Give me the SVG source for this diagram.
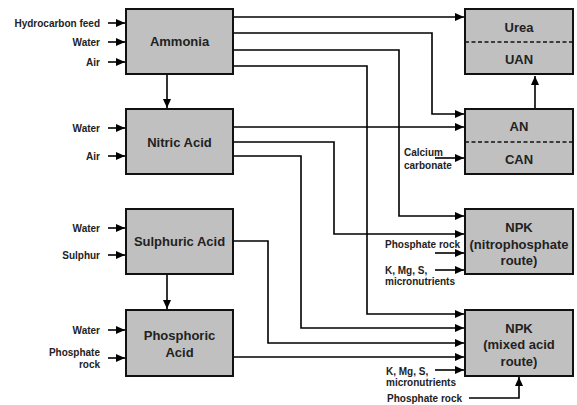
<svg xmlns="http://www.w3.org/2000/svg" width="577" height="405" viewBox="0 0 577 405">
<defs>
<marker id="ah" markerUnits="userSpaceOnUse" markerWidth="9" markerHeight="8" refX="9" refY="4" orient="auto">
<path d="M0,0 L9,4 L0,8 z" fill="#000"/>
</marker>
<style>
.box{fill:#c0c0c0;stroke:#111;stroke-width:2}
.dash{stroke:#111;stroke-width:1.6;stroke-dasharray:4,2.5;fill:none}
.t{font-family:"Liberation Sans",Arial,sans-serif;font-weight:bold;font-size:13px;fill:#222;text-anchor:middle}
.s{font-family:"Liberation Sans",Arial,sans-serif;font-weight:bold;font-size:10px;fill:#222}
.r{text-anchor:end}
.c line,.c path{stroke:#000;stroke-width:1.6;fill:none}
.a{marker-end:url(#ah)}
</style>
</defs>
<rect width="577" height="405" fill="#fff"/>

<g id="connectors" class="c">
<line class="a" x1="108" y1="23" x2="125" y2="23"/>
<line class="a" x1="108" y1="42" x2="125" y2="42"/>
<line class="a" x1="108" y1="62" x2="125" y2="62"/>
<line class="a" x1="108" y1="128" x2="125" y2="128"/>
<line class="a" x1="108" y1="156" x2="125" y2="156"/>
<line class="a" x1="108" y1="228" x2="125" y2="228"/>
<line class="a" x1="108" y1="255" x2="125" y2="255"/>
<line class="a" x1="108" y1="330" x2="125" y2="330"/>
<line class="a" x1="108" y1="358" x2="125" y2="358"/>
<line class="a" x1="167" y1="75" x2="167" y2="108"/>
<line class="a" x1="167" y1="275" x2="167" y2="309"/>
<line class="a" x1="234" y1="17" x2="464" y2="17"/>
<path class="a" d="M234,33 H432 V114 H464"/>
<path class="a" d="M234,50 H399 V216 H464"/>
<path class="a" d="M234,66 H367 V314 H464"/>
<line class="a" x1="234" y1="127" x2="464" y2="127"/>
<path class="a" d="M234,142 H334 V234 H464"/>
<path class="a" d="M234,156 H301 V328 H464"/>
<path class="a" d="M234,241 H268 V343 H464"/>
<line class="a" x1="234" y1="357" x2="464" y2="357"/>
<line class="a" x1="535" y1="109" x2="535" y2="76"/>
<line class="a" x1="435" y1="158" x2="464" y2="158"/>
<line class="a" x1="435" y1="253" x2="464" y2="253"/>
<line class="a" x1="435" y1="270" x2="464" y2="270"/>
<line class="a" x1="435" y1="370" x2="464" y2="370"/>
<path class="a" d="M469,398 H519 V377"/>
</g>

<g id="inputs-labels">
<text class="s r" x="100" y="26.5">Hydrocarbon feed</text>
<text class="s r" x="100" y="45.5">Water</text>
<text class="s r" x="100" y="65.5">Air</text>
<text class="s r" x="100" y="131.5">Water</text>
<text class="s r" x="100" y="159.5">Air</text>
<text class="s r" x="100" y="231.5">Water</text>
<text class="s r" x="100" y="258.5">Sulphur</text>
<text class="s r" x="100" y="333.5">Water</text>
<text class="s r" x="100" y="355.5">Phosphate</text>
<text class="s r" x="100" y="367.5">rock</text>
<text class="s" x="404" y="155.5">Calcium</text>
<text class="s" x="404" y="168.5">carbonate</text>
<text class="s" x="385" y="247.5">Phosphate rock</text>
<text class="s" x="385" y="273.5">K, Mg, S,</text>
<text class="s" x="385" y="285">micronutrients</text>
<text class="s" x="386" y="374.5">K, Mg, S,</text>
<text class="s" x="386" y="386">micronutrients</text>
<text class="s" x="387" y="401.5">Phosphate rock</text>
</g>

<g id="ammonia">
<rect class="box" x="126" y="9" width="107" height="65"/>
<text class="t" x="179.5" y="46">Ammonia</text>
</g>
<g id="nitric-acid">
<rect class="box" x="126" y="109" width="107" height="65"/>
<text class="t" x="179.5" y="146.5">Nitric Acid</text>
</g>
<g id="sulphuric-acid">
<rect class="box" x="126" y="209" width="107" height="65"/>
<text class="t" x="179.5" y="246">Sulphuric Acid</text>
</g>
<g id="phosphoric-acid">
<rect class="box" x="126" y="310" width="107" height="66"/>
<text class="t" x="179.5" y="340">Phosphoric</text>
<text class="t" x="179.5" y="357">Acid</text>
</g>
<g id="urea-uan">
<rect class="box" x="465" y="9" width="108" height="65"/>
<line class="dash" x1="465" y1="42" x2="573" y2="42"/>
<text class="t" x="519" y="31.5">Urea</text>
<text class="t" x="519" y="63.5">UAN</text>
</g>
<g id="an-can">
<rect class="box" x="465" y="109" width="108" height="65"/>
<line class="dash" x1="465" y1="142" x2="573" y2="142"/>
<text class="t" x="519" y="130.5">AN</text>
<text class="t" x="519" y="163.5">CAN</text>
</g>
<g id="npk-nitrophosphate">
<rect class="box" x="465" y="209" width="108" height="65"/>
<text class="t" x="519" y="231.5">NPK</text>
<text class="t" x="519" y="248.5">(nitrophosphate</text>
<text class="t" x="519" y="264.5">route)</text>
</g>
<g id="npk-mixed-acid">
<rect class="box" x="465" y="310" width="108" height="66"/>
<text class="t" x="519" y="332.5">NPK</text>
<text class="t" x="519" y="349">(mixed acid</text>
<text class="t" x="519" y="365.5">route)</text>
</g>
</svg>
